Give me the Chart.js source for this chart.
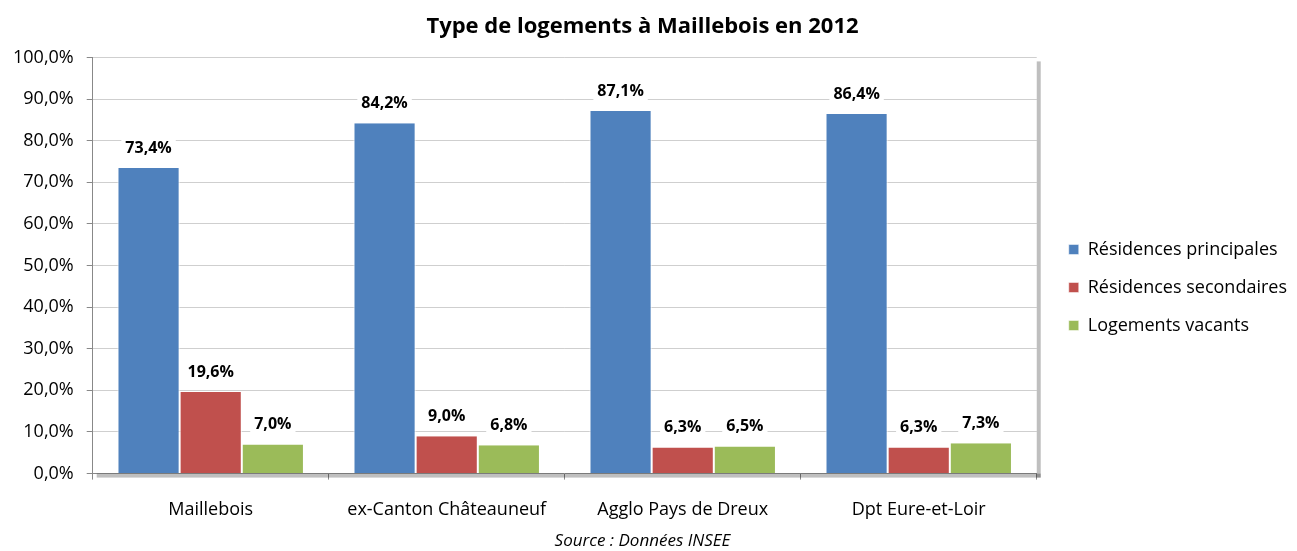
<!DOCTYPE html>
<html>
<head>
<meta charset="utf-8">
<script src="https://cdn.jsdelivr.net/npm/chart.js@4"></script>
<style>
    html, body { margin: 0; padding: 0; background: #fff; }
    #wrap { width: 1297px; height: 551px; }
</style>
</head>
<body>
<div id="wrap"><canvas id="logementsChart" width="1297" height="551"></canvas></div>
<script>
// Data
const categories = ['Maillebois', 'ex-Canton Châteauneuf', 'Agglo Pays de Dreux', 'Dpt Eure-et-Loir'];
const residencesPrincipales = [73.4, 84.2, 87.1, 86.4];
const residencesSecondaires = [19.6, 9.0, 6.3, 6.3];
const logementsVacants = [7.0, 6.8, 6.5, 7.3];
const seriesNames = ['Résidences principales', 'Résidences secondaires', 'Logements vacants'];

const fontFamily = '"Open Sans", Lato, sans-serif';

function pct(v) {
    return v.toFixed(1).replace('.', ',') + '%';
}

// Shadow behind plot area
const plotShadow = {
    id: 'plotShadow',
    beforeDatasetsDraw(chart) {
        const { ctx, chartArea } = chart;
        ctx.save();
        ctx.fillStyle = 'rgba(0,0,0,0.25)';
        ctx.fillRect(chartArea.right, chartArea.top + 4, 4, chartArea.bottom - chartArea.top);
        ctx.fillRect(chartArea.left + 4, chartArea.bottom, chartArea.right - chartArea.left, 4);
        ctx.restore();
    }
};

// Push the legend a bit further from the plot, and lower
const legendShift = {
    id: 'legendShift',
    afterLayout(chart) {
        chart.legend.left += 12;
        chart.legend.right += 12;
        chart.legend.top += 10;
        chart.legend.bottom += 10;
    }
};

// Value labels above the bars, white background
const valueLabels = {
    id: 'valueLabels',
    afterDatasetsDraw(chart) {
        const ctx = chart.ctx;
        ctx.save();
        ctx.font = 'bold 16px ' + fontFamily;
        ctx.textAlign = 'center';
        ctx.textBaseline = 'middle';
        chart.data.datasets.forEach((ds, i) => {
            chart.getDatasetMeta(i).data.forEach((bar, j) => {
                const text = pct(ds.data[j]);
                const y = bar.y - 20;
                const w = ctx.measureText(text).width + 8;
                ctx.fillStyle = '#fff';
                ctx.fillRect(bar.x - w / 2, y - 10, w, 20);
                ctx.fillStyle = '#000';
                ctx.fillText(text, bar.x, y);
            });
        });
        ctx.restore();
    }
};

const chart = new Chart(document.getElementById('logementsChart').getContext('2d'), {
    type: 'bar',
    data: {
        labels: categories,
        datasets: [
            { label: seriesNames[0], data: residencesPrincipales, backgroundColor: '#4F81BD' },
            { label: seriesNames[1], data: residencesSecondaires, backgroundColor: '#C0504D' },
            { label: seriesNames[2], data: logementsVacants, backgroundColor: '#9BBB59' }
        ]
    },
    options: {
        responsive: false,
        animation: false,
        devicePixelRatio: 1,
        layout: { padding: { left: 0, right: 12, top: 4, bottom: 0 } },
        datasets: {
            bar: {
                categoryPercentage: 0.79,
                barPercentage: 1.0,
                borderColor: '#fff',
                borderWidth: { left: 1, right: 1 },
                borderSkipped: false
            }
        },
        plugins: {
            title: {
                display: true,
                text: 'Type de logements à Maillebois en 2012',
                color: '#000',
                font: { family: fontFamily, size: 22, weight: 'bold' },
                padding: { top: 10, bottom: 17 }
            },
            subtitle: {
                display: true,
                position: 'bottom',
                text: 'Source : Données INSEE',
                color: '#000',
                font: { family: fontFamily, size: 17, style: 'italic' },
                padding: { top: -9, bottom: 0 }
            },
            legend: {
                position: 'right',
                align: 'center',
                labels: {
                    boxWidth: 10,
                    boxHeight: 10,
                    padding: 20,
                    color: '#000',
                    font: { family: fontFamily, size: 18 }
                }
            },
            tooltip: { enabled: false }
        },
        scales: {
            x: {
                grid: {
                    offset: true,
                    drawOnChartArea: false,
                    drawTicks: true,
                    tickLength: 6,
                    color: '#888'
                },
                border: { color: '#888' },
                ticks: {
                    color: '#000',
                    padding: 21,
                    font: { family: fontFamily, size: 18, lineHeight: 1.0 }
                }
            },
            y: {
                min: 0,
                max: 100,
                grid: {
                    color: '#cfcfcf',
                    tickLength: 6,
                    tickColor: '#888'
                },
                border: { color: '#888' },
                ticks: {
                    stepSize: 10,
                    color: '#000',
                    padding: 13,
                    font: { family: fontFamily, size: 18 },
                    callback: value => pct(value)
                }
            }
        }
    },
    plugins: [plotShadow, legendShift, valueLabels]
});
</script>
</body>
</html>
